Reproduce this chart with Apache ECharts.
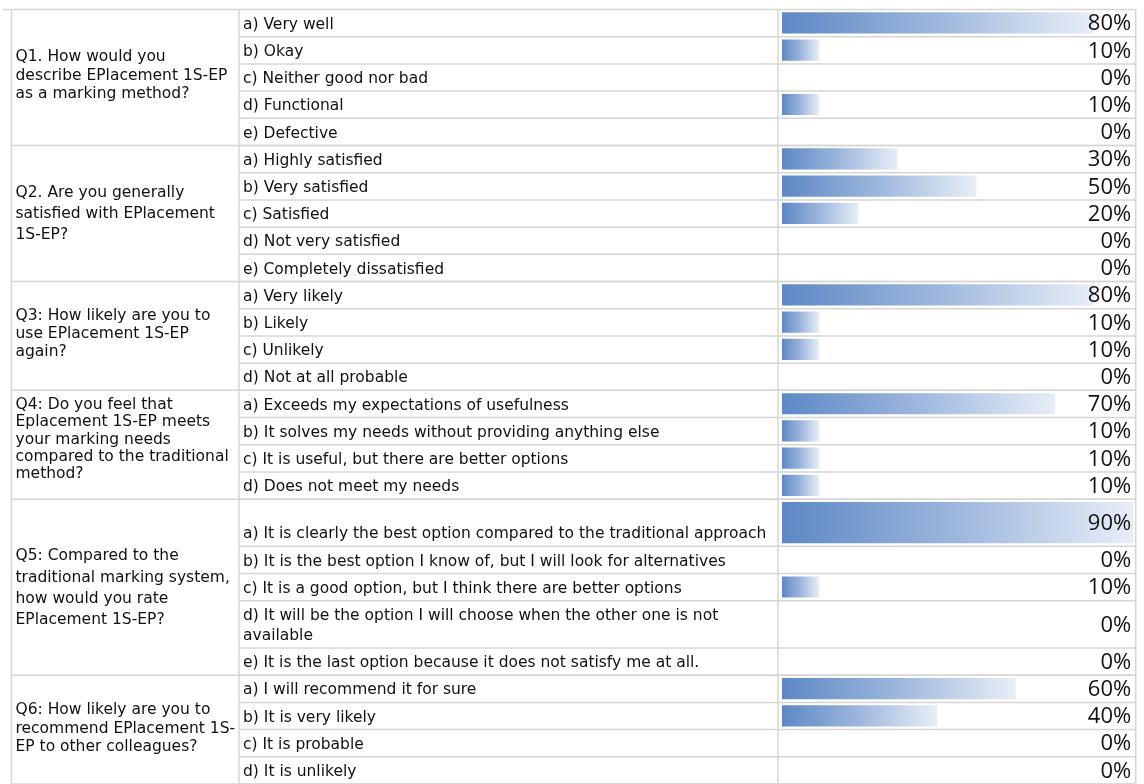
<!DOCTYPE html>
<html>
<head>
<meta charset="utf-8">
<script src="https://cdn.jsdelivr.net/npm/echarts@6/dist/echarts.min.js"></script>
<style>
  html, body { margin: 0; padding: 0; background: #ffffff; }
  #chart { width: 1144px; height: 784px; }
</style>
</head>
<body>
<div id="chart"></div>
<script>
// Survey questions (line breaks as wrapped in the first column)
const questions = [
  "Q1. How would you\ndescribe EPlacement 1S-EP\nas a marking method?",
  "Q2. Are you generally\nsatisfied with EPlacement\n1S-EP?",
  "Q3: How likely are you to\nuse EPlacement 1S-EP\nagain?",
  "Q4: Do you feel that\nEplacement 1S-EP meets\nyour marking needs\ncompared to the traditional\nmethod?",
  "Q5: Compared to the\ntraditional marking system,\nhow would you rate\nEPlacement 1S-EP?",
  "Q6: How likely are you to\nrecommend EPlacement 1S-\nEP to other colleagues?"
];

// Answer options and share of respondents (%) for each question
const q1Options = ["a) Very well", "b) Okay", "c) Neither good nor bad", "d) Functional", "e) Defective"];
const q1Share = [80, 10, 0, 10, 0];

const q2Options = ["a) Highly satisfied", "b) Very satisfied", "c) Satisfied", "d) Not very satisfied", "e) Completely dissatisfied"];
const q2Share = [30, 50, 20, 0, 0];

const q3Options = ["a) Very likely", "b) Likely", "c) Unlikely", "d) Not at all probable"];
const q3Share = [80, 10, 10, 0];

const q4Options = [
  "a) Exceeds my expectations of usefulness",
  "b) It solves my needs without providing anything else",
  "c) It is useful, but there are better options",
  "d) Does not meet my needs"
];
const q4Share = [70, 10, 10, 10];

const q5Options = [
  "a) It is clearly the best option compared to the traditional approach",
  "b) It is the best option I know of, but I will look for alternatives",
  "c) It is a good option, but I think there are better options",
  "d) It will be the option I will choose when the other one is not\navailable",
  "e) It is the last option because it does not satisfy me at all."
];
const q5Share = [90, 0, 10, 0, 0];

const q6Options = ["a) I will recommend it for sure", "b) It is very likely", "c) It is probable", "d) It is unlikely"];
const q6Share = [60, 40, 0, 0];

// ---- layout (row heights in row units, fonts, columns) ----
const ROW_PX = 27.3;
const TALL = 1.735;
const rowUnits = [
  [1, 1, 1, 1, 1],
  [1, 1, 1, 1, 1],
  [1, 1, 1, 1],
  [1, 1, 1, 1],
  [TALL, 1, 1, TALL, 1],
  [1, 1, 1, 1]
];
const qLineHeight = [18.3, 21, 18.3, 17.3, 21.4, 18.5];
const qShift = [-2, 0, -2, -5, 1, -1];

const COL_LEFT = 11.5, COL_Q = 239, COL_BAR = 778, COL_RIGHT = 1135.7;
const TOP = 9.5;
const LINE_COLOR = '#d6d6d6';
const TEXT_FONT = '15.5px "DejaVu Sans", sans-serif';
const PCT_FONT = '22px "Open Sans", "Liberation Sans", sans-serif';

const optionSets = [q1Options, q2Options, q3Options, q4Options, q5Options, q6Options];
const shareSets = [q1Share, q2Share, q3Share, q4Share, q5Share, q6Share];

// Build row records from the arrays above
const answerRows = [];
const questionBlocks = [];
let cursor = 0;
optionSets.forEach((opts, q) => {
  const start = cursor;
  opts.forEach((label, k) => {
    const h = rowUnits[q][k];
    answerRows.push({ label: label, value: [shareSets[q][k], cursor, cursor + h] });
    cursor += h;
  });
  questionBlocks.push({ value: [0, start, cursor, q] });
});
const totalUnits = cursor;
const maxShare = Math.max.apply(null, shareSets.map(s => Math.max.apply(null, s)));

const barGradient = new echarts.graphic.LinearGradient(0, 0, 1, 0, [
  { offset: 0, color: '#5d88c5' },
  { offset: 0.5, color: '#9db7dd' },
  { offset: 1, color: '#e8eef7' }
]);

function renderAnswer(params, api) {
  const row = answerRows[params.dataIndex];
  const v = api.value(0), y0 = api.value(1), y1 = api.value(2);
  const pTop = api.coord([0, y0]);
  const pBot = api.coord([0, y1]);
  const pEnd = api.coord([v, y0]);
  const top = pTop[1], bot = pBot[1], x0 = pTop[0];
  const children = [];
  if (v > 0) {
    children.push({
      type: 'rect',
      shape: { x: x0 + 2, y: top + 2.8, width: pEnd[0] - x0 - 2, height: bot - top - 6 },
      style: { fill: barGradient }
    });
  }
  children.push({
    type: 'text',
    style: {
      text: row.label, x: COL_Q + 4, y: bot - 2,
      align: 'left', verticalAlign: 'bottom',
      font: TEXT_FONT, fill: '#111111', lineHeight: 20
    }
  });
  children.push({
    type: 'text',
    style: {
      text: v + '%', x: COL_RIGHT - 4.5, y: (top + bot) / 2 + 1,
      align: 'right', verticalAlign: 'middle',
      font: PCT_FONT, fill: '#111111'
    }
  });
  children.push({
    type: 'line',
    shape: { x1: COL_Q, y1: bot, x2: COL_RIGHT, y2: bot },
    style: { stroke: LINE_COLOR, lineWidth: 1.5 }
  });
  return { type: 'group', children: children };
}

function renderQuestion(params, api) {
  const y0 = api.value(1), y1 = api.value(2), q = api.value(3);
  const top = api.coord([0, y0])[1];
  const bot = api.coord([0, y1])[1];
  return {
    type: 'group',
    children: [
      {
        type: 'text',
        style: {
          text: questions[q], x: COL_LEFT + 4, y: (top + bot) / 2 + qShift[q],
          align: 'left', verticalAlign: 'middle',
          font: TEXT_FONT, fill: '#111111', lineHeight: qLineHeight[q]
        }
      },
      {
        type: 'line',
        shape: { x1: COL_LEFT, y1: bot, x2: COL_RIGHT, y2: bot },
        style: { stroke: LINE_COLOR, lineWidth: 1.5 }
      }
    ]
  };
}

const chart = echarts.init(document.getElementById('chart'), null, { renderer: 'canvas' });
chart.setOption({
  animation: false,
  backgroundColor: '#ffffff',
  grid: { left: COL_BAR + 2, top: TOP, width: COL_RIGHT - COL_BAR - 4, height: totalUnits * ROW_PX },
  xAxis: { type: 'value', min: 0, max: maxShare, show: false },
  yAxis: { type: 'value', min: 0, max: totalUnits, inverse: true, show: false },
  graphic: [
    { type: 'line', shape: { x1: 3, y1: TOP, x2: COL_RIGHT, y2: TOP }, style: { stroke: LINE_COLOR, lineWidth: 1.5 } },
    { type: 'line', shape: { x1: COL_LEFT, y1: TOP, x2: COL_LEFT, y2: 784 }, style: { stroke: LINE_COLOR, lineWidth: 1.5 } },
    { type: 'line', shape: { x1: COL_Q, y1: TOP, x2: COL_Q, y2: 784 }, style: { stroke: LINE_COLOR, lineWidth: 1.5 } },
    { type: 'line', shape: { x1: COL_BAR, y1: TOP, x2: COL_BAR, y2: 784 }, style: { stroke: LINE_COLOR, lineWidth: 1.5 } },
    { type: 'line', shape: { x1: COL_RIGHT, y1: TOP, x2: COL_RIGHT, y2: 784 }, style: { stroke: LINE_COLOR, lineWidth: 1.5 } }
  ],
  series: [
    {
      type: 'custom',
      name: 'Questions',
      renderItem: renderQuestion,
      encode: { x: 0, y: 1 },
      data: questionBlocks,
      silent: true
    },
    {
      type: 'custom',
      name: 'Share',
      renderItem: renderAnswer,
      encode: { x: 0, y: 1 },
      data: answerRows,
      silent: true
    }
  ]
});
</script>
</body>
</html>
